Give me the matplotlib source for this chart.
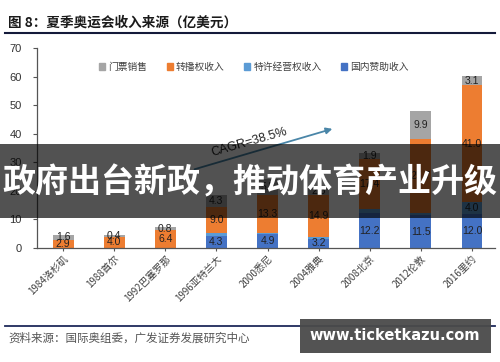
import numpy as np
import matplotlib
matplotlib.use('Agg')
import matplotlib.pyplot as plt
from matplotlib.patches import Patch, Rectangle

plt.rcParams['font.family'] = ['Noto Sans CJK SC', 'DejaVu Sans']

# 数据（亿美元）
games = ['1984洛杉矶', '1988首尔', '1992巴塞罗那', '1996亚特兰大', '2000悉尼',
         '2004雅典', '2008北京', '2012伦敦', '2016里约']
domestic = [0, 0, 0, 4.3, 4.9, 3.2, 12.2, 11.5, 12.0]      # 国内赞助收入
licensing = [0, 0, 0, 0.9, 0.5, 0.6, 1.6, 0.9, 4.0]      # 特许经营权收入
broadcast = [2.9, 4.0, 6.4, 9.0, 13.3, 14.9, 17.4, 25.7, 41.0]  # 转播权收入
ticket = [1.6, 0.4, 0.8, 4.3, 5.5, 2.3, 1.9, 9.9, 3.1]   # 门票销售
yticks = [0, 10, 20, 30, 40, 50, 60, 70]

c_ticket = '#A5A5A5'
c_broad = '#ED7D31'
c_lic = '#5B9BD5'
c_dom = '#4472C4'

fig = plt.figure(figsize=(5, 3.62), dpi=100)
ax = fig.add_axes([0.074, 0.315, 0.916, 0.552])

x = np.arange(len(games))
w = 0.41
series = [(domestic, c_dom), (licensing, c_lic), (broadcast, c_broad), (ticket, c_ticket)]
bottom = np.zeros(len(games))
for vals, col in series:
    v = np.array(vals, dtype=float)
    ax.bar(x, v, w, bottom=bottom, color=col, zorder=2)
    for i in range(len(x)):
        show = v[i] >= 3 if col == c_lic else v[i] > 0
        if show:
            ax.text(x[i], bottom[i] + v[i] / 2, f'{v[i]:.1f}', ha='center', va='center',
                    fontsize=7.5, family='Liberation Sans', color='#222222', zorder=3)
    bottom += v

ax.set_xlim(-0.51, 8.45)
ax.set_ylim(0, 70)
ax.set_yticks(yticks)
ax.set_xticks(x)
ax.set_xticklabels(games, rotation=45, ha='right', rotation_mode='anchor',
                   fontsize=7, color='#404040')
for lab in ax.get_yticklabels():
    lab.set_family('Liberation Sans')
    lab.set_fontsize(8)
    lab.set_color('#333333')
ax.tick_params(axis='y', length=3, width=0.8, color='#555555', pad=8)
ax.tick_params(axis='x', direction='inout', length=4, width=0.8, color='#555555', pad=2)
for s in ['top', 'right']:
    ax.spines[s].set_visible(False)
for s in ['left', 'bottom']:
    ax.spines[s].set_color('#555555')
    ax.spines[s].set_linewidth(0.9)

# CAGR 箭头
ax.annotate('', xy=(5.32, 42.0), xytext=(2.52, 27.3),
            arrowprops=dict(arrowstyle='-|>', color='#4A86A8', lw=1.3, mutation_scale=9),
            zorder=4)
ax.text(3.64, 37.1, 'CAGR=38.5%', rotation=16, ha='center', va='center',
        fontsize=9, family='Liberation Sans', color='#222222')

# 图例
handles = [Patch(color=c_ticket), Patch(color=c_broad), Patch(color=c_lic), Patch(color=c_dom)]
labels = ['门票销售', '转播权收入', '特许经营权收入', '国内赞助收入']
fig.legend(handles, labels, loc='center left', bbox_to_anchor=(0.198, 1 - 67 / 362),
           ncol=4, frameon=False, fontsize=7.0, handlelength=0.6, handleheight=0.6,
           handletextpad=0.35, columnspacing=2.0, borderpad=0, borderaxespad=0,
           labelcolor='#404040')

# 标题和来源
fig.text(0.016, 1 - 23 / 362, '图 8：夏季奥运会收入来源（亿美元）', fontsize=9.8,
         fontweight='bold', color='#1a1a1a', va='center')
fig.add_artist(plt.Line2D([0.01, 0.99], [1 - 33 / 362] * 2, color='#141a3a', lw=1.5))
fig.add_artist(plt.Line2D([0.01, 0.99], [1 - 326 / 362] * 2, color='#1f2a5a', lw=1.3))
fig.text(0.016, 1 - 338 / 362, '资料来源：国际奥组委，广发证券发展研究中心', fontsize=8.3,
         color='#555555', va='center')

# 横幅
fig.add_artist(Rectangle((0, 1 - 218 / 362), 1, 74 / 362, transform=fig.transFigure,
                         color='black', alpha=0.68, zorder=10, lw=0))
fig.text(0.5, 1 - 183 / 362, '政府出台新政，推动体育产业升级', fontsize=23.8,
         fontweight='bold', color='white', ha='center', va='center', zorder=11)

# 水印
fig.add_artist(Rectangle((300 / 500, 1 - 353 / 362), 191 / 500, 34 / 362,
                         transform=fig.transFigure, color='#4a4a4a', alpha=0.95,
                         zorder=10, lw=0))
fig.text(395 / 500, 1 - 336 / 362, 'www.ticketkazu.com', fontsize=10.5, fontweight='bold',
         family='DejaVu Sans', color='white', ha='center', va='center', zorder=11)

fig.savefig('out.png', dpi=100)
